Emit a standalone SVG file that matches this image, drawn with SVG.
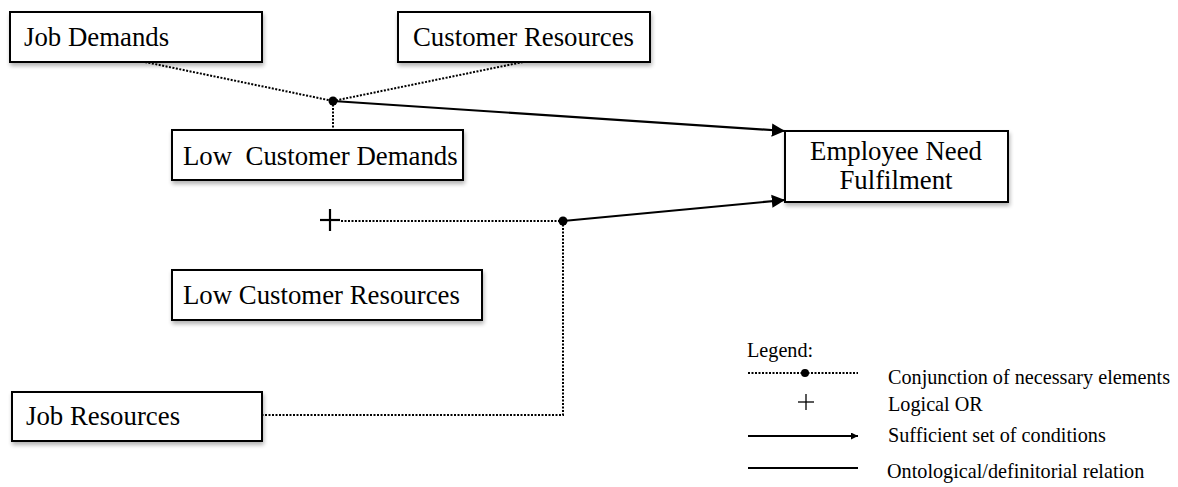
<svg xmlns="http://www.w3.org/2000/svg" width="1178" height="487" viewBox="0 0 1178 487">
<style>
.box{fill:#fff;stroke:#000;stroke-width:2;filter:url(#sh)}
.t{font-family:"Liberation Serif","Times New Roman",serif;font-size:26.8px;fill:#000}
.lt{font-family:"Liberation Serif","Times New Roman",serif;font-size:20.2px;fill:#000}
.dot{fill:none;stroke:#000;stroke-width:2;stroke-dasharray:2 1.5}
.sol{fill:none;stroke:#000;stroke-width:2.2}
</style>
<defs>
<filter id="sh" x="-10%" y="-20%" width="130%" height="150%">
<feGaussianBlur in="SourceAlpha" stdDeviation="2"/>
<feOffset dx="1" dy="3" result="b"/>
<feComponentTransfer><feFuncA type="linear" slope="0.3"/></feComponentTransfer>
<feMerge><feMergeNode/><feMergeNode in="SourceGraphic"/></feMerge>
</filter>
<marker id="ah" viewBox="0 0 10 10" refX="10" refY="5" markerWidth="7" markerHeight="7" markerUnits="userSpaceOnUse" orient="auto">
<path d="M0,0 L10,5 L0,10 z" fill="#000"/>
</marker>
<marker id="ah2" viewBox="0 0 10 10" refX="10" refY="5" markerWidth="6" markerHeight="7" orient="auto">
<path d="M0,0 L10,5 L0,10 z" fill="#000"/>
</marker>
</defs>
<g id="connectors">
<line class="dot" x1="145" y1="62" x2="333" y2="101"/>
<line class="dot" x1="523" y1="62" x2="333" y2="101"/>
<line class="dot" x1="333" y1="101" x2="333" y2="130"/>
<line class="sol" x1="333" y1="101" x2="785" y2="131" marker-end="url(#ah2)"/>
<circle cx="333" cy="101" r="4.5" fill="#000"/>
<line class="dot" x1="341" y1="221" x2="563" y2="221"/>
<polyline class="dot" points="563,221 563,415 262,415"/>
<line class="sol" x1="563" y1="221" x2="785" y2="200" marker-end="url(#ah2)"/>
<circle cx="563" cy="221" r="4.5" fill="#000"/>
<g id="or-plus"><line class="sol" x1="320" y1="220" x2="340" y2="220" stroke-width="1.8"/><line class="sol" x1="330" y1="209" x2="330" y2="231" stroke-width="1.8"/></g>
</g>
<g id="job-demands"><rect class="box" x="10" y="12" width="252" height="50"/><text class="t" x="24" y="46">Job Demands</text></g>
<g id="customer-resources"><rect class="box" x="398" y="12" width="252" height="50"/><text class="t" x="413" y="46">Customer Resources</text></g>
<g id="low-customer-demands"><rect class="box" x="172" y="130" width="291" height="50"/><text class="t" x="183" y="165" xml:space="preserve">Low  Customer Demands</text></g>
<g id="employee-need"><rect class="box" x="785" y="131" width="223" height="71"/><text class="t" x="896" y="160" text-anchor="middle" font-size="21">Employee Need</text><text class="t" x="896" y="189" text-anchor="middle" font-size="21">Fulfilment</text></g>
<g id="low-customer-resources"><rect class="box" x="172" y="270" width="310" height="50"/><text class="t" x="183" y="304">Low Customer Resources</text></g>
<g id="job-resources"><rect class="box" x="12" y="392" width="250" height="49"/><text class="t" x="26" y="425">Job Resources</text></g>
<g id="legend">
<text class="lt" x="747" y="357">Legend:</text>
<line class="dot" x1="748" y1="373" x2="858" y2="373" stroke-width="1.5"/>
<circle cx="805" cy="373" r="4" fill="#000"/>
<text class="lt" x="888" y="384">Conjunction of necessary elements</text>
<line x1="798" y1="402" x2="814" y2="402" stroke="#000" stroke-width="1.3"/>
<line x1="806" y1="394" x2="806" y2="410" stroke="#000" stroke-width="1.3"/>
<text class="lt" x="888" y="411">Logical OR</text>
<line class="sol" x1="748" y1="436" x2="858" y2="436" marker-end="url(#ah)"/>
<text class="lt" x="888" y="442">Sufficient set of conditions</text>
<line class="sol" x1="748" y1="468" x2="858" y2="468"/>
<text class="lt" x="887" y="478">Ontological/definitorial relation</text>
</g>
</svg>
